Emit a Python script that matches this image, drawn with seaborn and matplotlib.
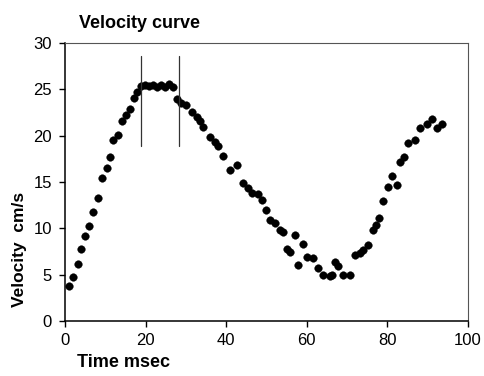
import matplotlib
matplotlib.use("Agg")
import matplotlib.pyplot as plt
import seaborn as sns
import pandas as pd

time_ms = [1.1, 2.1, 3.2, 4.0, 5.0, 6.0, 7.0, 8.3, 9.1, 10.3, 11.2, 12.0, 13.1, 14.1,
           15.1, 16.1, 17.0, 17.9, 18.8, 19.8, 20.8, 21.8, 22.8, 23.8, 24.8, 25.8,
           26.8, 27.9, 28.9, 30.0, 31.4, 32.7, 33.6, 34.3, 36.0, 37.2, 38.0, 39.3,
           41.0, 42.6, 44.2, 45.5, 46.3, 48.0, 48.8, 49.9, 50.9, 52.1, 53.3, 54.2,
           55.0, 55.8, 57.1, 57.9, 59.1, 60.0, 61.6, 62.9, 64.1, 65.8, 66.2, 67.0,
           67.8, 69.1, 70.7, 72.0, 73.2, 74.0, 75.1, 76.5, 77.1, 78.0, 79.0, 80.2,
           81.1, 82.3, 83.1, 84.0, 85.2, 86.8, 88.1, 89.8, 91.0, 92.2, 93.5]
velocity = [3.8, 4.8, 6.2, 7.8, 9.2, 10.3, 11.8, 13.3, 15.4, 16.5, 17.7, 19.5, 20.1, 21.6,
            22.2, 22.9, 24.1, 24.7, 25.4, 25.5, 25.4, 25.5, 25.3, 25.5, 25.2, 25.6,
            25.2, 24.0, 23.5, 23.3, 22.6, 22.0, 21.6, 20.9, 19.9, 19.3, 18.9, 17.8,
            16.3, 16.8, 14.9, 14.3, 13.8, 13.7, 13.1, 12.0, 10.9, 10.6, 9.8, 9.6,
            7.8, 7.5, 9.3, 6.0, 8.3, 6.9, 6.8, 5.7, 5.0, 4.85, 5.0, 6.4,
            5.9, 5.0, 5.0, 7.1, 7.3, 7.7, 8.2, 9.8, 10.4, 11.1, 12.9, 14.5,
            15.6, 14.7, 17.2, 17.7, 19.2, 19.5, 20.8, 21.25, 21.8, 20.8, 21.3]
phase_bounds = [18.8, 28.3]
x_ticks = [0, 20, 40, 60, 80, 100]
y_ticks = [0, 5, 10, 15, 20, 25, 30]

df = pd.DataFrame({"Time": time_ms, "Velocity": velocity})

sns.set_theme(style="white")
plt.rcParams['font.family'] = ['Liberation Sans', 'DejaVu Sans']
plt.rcParams['text.color'] = 'black'

fig = plt.figure(figsize=(4.85, 3.76), dpi=100)
ax = fig.add_axes([65/485, 1-321/376, (468-65)/485, (321-43)/376])

sns.scatterplot(data=df, x="Time", y="Velocity", ax=ax, color="black",
                s=30, edgecolor="black", linewidth=0.3, legend=False)

for xb in phase_bounds:
    ax.plot([xb, xb], [18.9, 28.6], color="#333333", linewidth=0.9)

ax.set_xlim(0, 100)
ax.set_ylim(0, 30)
ax.set_xticks(x_ticks)
ax.set_yticks(y_ticks)
ax.set_xticklabels([str(v) for v in x_ticks])
ax.set_yticklabels([str(v) for v in y_ticks])
ax.tick_params(axis="both", direction="out", length=4.5, width=1, color="black",
               labelsize=12, labelcolor="black", bottom=True, left=True)
ax.tick_params(axis="y", pad=5)
ax.tick_params(axis="x", pad=4)
ax.set_xlabel("")
ax.set_ylabel("")

for side in ["left", "bottom"]:
    ax.spines[side].set_color("black")
    ax.spines[side].set_linewidth(1.1)
for side in ["top", "right"]:
    ax.spines[side].set_visible(True)
    ax.spines[side].set_color("#555555")
    ax.spines[side].set_linewidth(0.8)

fig.text(79/485, 1-28/376, "Velocity curve", fontsize=13, fontweight="bold",
         ha="left", va="baseline", color="black")
fig.text(77/485, 1-367/376, "Time msec", fontsize=13, fontweight="bold",
         ha="left", va="baseline", color="black")
fig.text(20/485, 1-249/376, "Velocity  cm/s", fontsize=12.5, fontweight="bold",
         ha="center", va="center", rotation=90, color="black")

fig.savefig("out.png", dpi=100)
